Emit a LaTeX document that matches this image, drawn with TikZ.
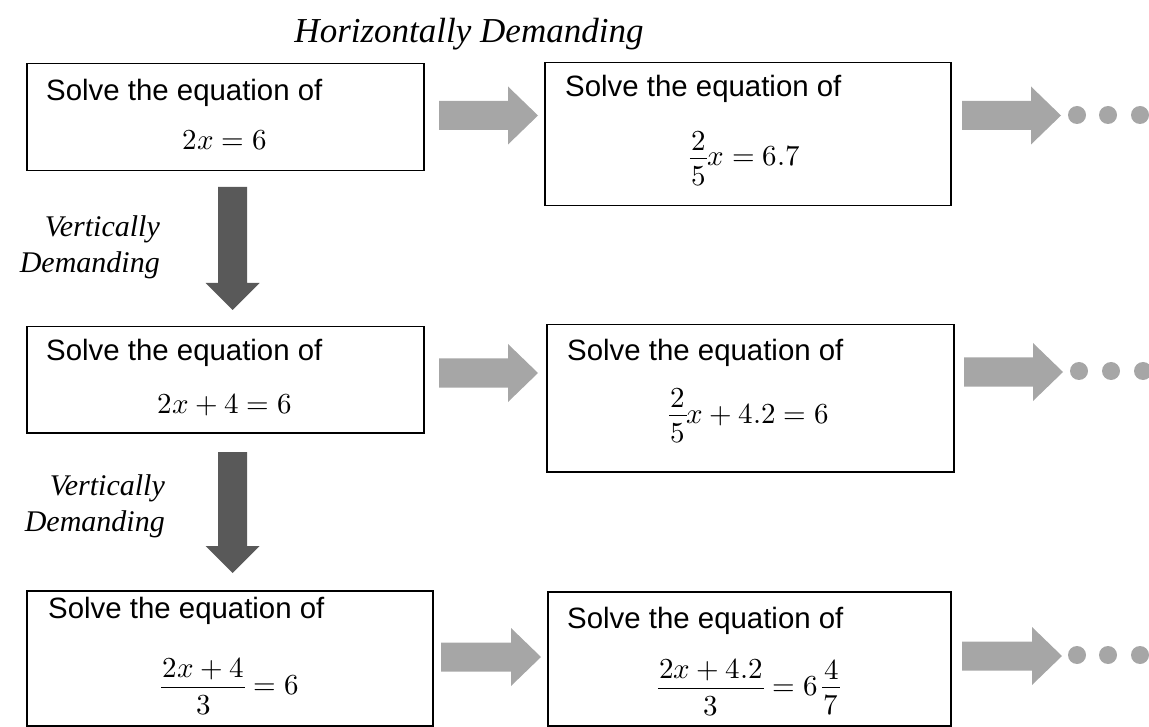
\documentclass[tikz,border=0pt]{standalone}
\usepackage{fontspec}
\usepackage{unicode-math}
\setmainfont{Liberation Serif}
\newfontfamily\arialfont{Liberation Sans}
\setmathfont{Latin Modern Math}
\usetikzlibrary{calc}
\definecolor{lightarrow}{HTML}{A6A6A6}
\definecolor{darkarrow}{HTML}{595959}
\tikzset{
  box/.style={draw=black, line width=1.5pt, inner sep=0pt, anchor=north west},
  solvetext/.style={font=\arialfont\fontsize{29.4}{34}\selectfont, inner sep=0pt, anchor=base west},
  eqtext/.style={font=\fontsize{29}{34}\selectfont, inner sep=0pt, anchor=base},
  demandlabel/.style={font=\itshape\fontsize{30}{36}\selectfont, inner sep=0pt},
  titlelabel/.style={font=\itshape\fontsize{35}{40}\selectfont, inner sep=0pt},
  dotmark/.style={circle, fill=lightarrow, minimum size=18pt, inner sep=0pt},
  lightfill/.style={fill=lightarrow},
  darkfill/.style={fill=darkarrow},
}
% compact full-size fraction
\newcommand\eqfrac[2]{\mathord{\vcenter{\offinterlineskip\halign{\hfil\kern1.5pt##\kern1.5pt\hfil\cr
  $#1$\cr\noalign{\kern7pt\hrule height 1.3pt\kern7pt}$#2$\cr}}}}
% horizontal block arrow from #1 (tail) to #2 (tip)
\newcommand\rightblock[2]{%
  \fill[lightfill] ($(#1)+(0,-14.5)$) -- ($(#2)+(-30,-14.5)$) -- ($(#2)+(-30,-29)$) -- (#2)
    -- ($(#2)+(-30,29)$) -- ($(#2)+(-30,14.5)$) -- ($(#1)+(0,14.5)$) -- cycle;}
% vertical block arrow from #1 (tail) down to #2 (tip)
\newcommand\downblock[2]{%
  \fill[darkfill] ($(#1)+(-14.5,0)$) -- ($(#2)+(-14.5,-27)$) -- ($(#2)+(-27,-27)$) -- (#2)
    -- ($(#2)+(27,-27)$) -- ($(#2)+(14.5,-27)$) -- ($(#1)+(14.5,0)$) -- cycle;}
\begin{document}
\begin{tikzpicture}[x=1pt,y=-1pt]
\useasboundingbox (0,0) rectangle (1149,727);

% title
\node[titlelabel, anchor=base] (htitle) at (469,43) {Horizontally Demanding};

% boxes
\node[box, minimum width=397pt, minimum height=107pt] (b1) at (26,63) {};
\node[box, minimum width=406pt, minimum height=143pt] (b2) at (544,62) {};
\node[box, minimum width=397pt, minimum height=106pt] (b3) at (26,326) {};
\node[box, minimum width=407pt, minimum height=147pt] (b4) at (546,324) {};
\node[box, minimum width=406pt, minimum height=135pt] (b5) at (26,590) {};
\node[box, minimum width=403pt, minimum height=134pt] (b6) at (547,591) {};

% texts
\node[solvetext] (s1) at (46,101) {Solve the equation of};
\node[eqtext] (e1) at (225,150) {$2x=6$};
\node[solvetext] (s2) at (565,97) {Solve the equation of};
\node[eqtext] (e2) at (745,166) {$\eqfrac{2}{5}x=6.7$};
\node[solvetext] (s3) at (46,361) {Solve the equation of};
\node[eqtext] (e3) at (225,413) {$2x+4=6$};
\node[solvetext] (s4) at (567,360) {Solve the equation of};
\node[eqtext] (e4) at (749,423) {$\eqfrac{2}{5}x+4.2=6$};
\node[solvetext] (s5) at (48,618) {Solve the equation of};
\node[eqtext] (e5) at (230,694) {$\eqfrac{2x+4}{3}=6$};
\node[solvetext] (s6) at (567,628) {Solve the equation of};
\node[eqtext] (e6) at (749,695) {$\eqfrac{2x+4.2}{3}=6\,\eqfrac{4}{7}$};

% vertical labels
\node[demandlabel, anchor=base east] (v1a) at (160,237) {Vertically};
\node[demandlabel, anchor=base east] (v1b) at (160,273) {Demanding};
\node[demandlabel, anchor=base east] (v2a) at (165,495) {Vertically};
\node[demandlabel, anchor=base east] (v2b) at (165,531) {Demanding};

% arrow end coordinates
\coordinate (h1s) at (439,115.5);  \coordinate (h1t) at (538,115.5);
\coordinate (h2s) at (962,115.5);  \coordinate (h2t) at (1061,115.5);
\coordinate (h3s) at (439,373);    \coordinate (h3t) at (538,373);
\coordinate (h4s) at (964,372);    \coordinate (h4t) at (1063,372);
\coordinate (h5s) at (441,657);    \coordinate (h5t) at (541,657);
\coordinate (h6s) at (962,656);    \coordinate (h6t) at (1062,656);
\coordinate (v1s) at (232.5,187);  \coordinate (v1t) at (232.5,310);
\coordinate (v2s) at (232.5,452);  \coordinate (v2t) at (232.5,573);

\rightblock{h1s}{h1t}
\rightblock{h2s}{h2t}
\rightblock{h3s}{h3t}
\rightblock{h4s}{h4t}
\rightblock{h5s}{h5t}
\rightblock{h6s}{h6t}
\downblock{v1s}{v1t}
\downblock{v2s}{v2t}

% dots
\node[dotmark] (d11) at (1077,115) {};
\node[dotmark] (d12) at (1108,115) {};
\node[dotmark] (d13) at (1140,115) {};
\node[dotmark] (d21) at (1079,371) {};
\node[dotmark] (d22) at (1111,371) {};
\node[dotmark] (d23) at (1143,371) {};
\node[dotmark] (d31) at (1077,655) {};
\node[dotmark] (d32) at (1108,655) {};
\node[dotmark] (d33) at (1140,655) {};
\end{tikzpicture}
\end{document}
